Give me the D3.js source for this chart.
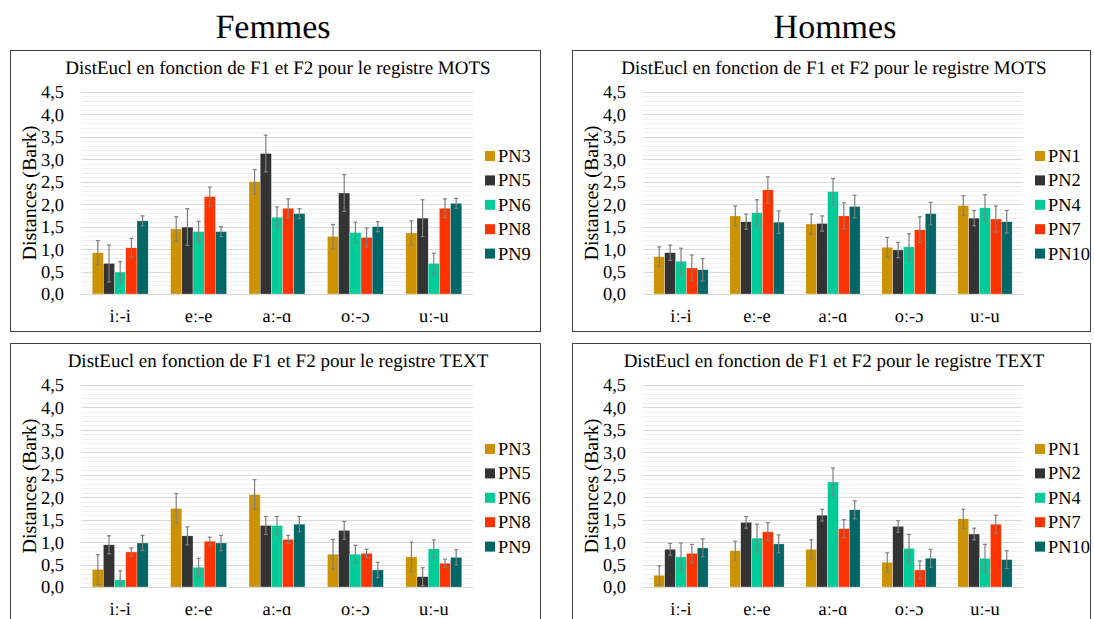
<!DOCTYPE html>
<html><head><meta charset="utf-8">
<script src="https://cdn.jsdelivr.net/npm/d3@7"></script>
<style>
html,body{margin:0;padding:0;background:#fff;}
svg text{font-family:"Liberation Serif","Times New Roman",serif !important;text-rendering:geometricPrecision;}
</style></head>
<body><svg id="c" width="1094" height="619"></svg>
<script>
// ---------- DATA ----------
const categories = ["iː-i", "eː-e", "aː-ɑ", "oː-ɔ", "uː-u"];
const femmesSeries = ["PN3", "PN5", "PN6", "PN8", "PN9"];
const hommesSeries = ["PN1", "PN2", "PN4", "PN7", "PN10"];
const yTickValues = [0, 0.5, 1, 1.5, 2, 2.5, 3, 3.5, 4, 4.5];
const seriesColors = ["#CC9200", "#333333", "#00CC99", "#FF3300", "#006666"];

// Femmes – MOTS (rows = series, cols = categories)
const femmesMotsValues = [
  [0.92, 1.45, 2.50, 1.28, 1.36],
  [0.68, 1.49, 3.13, 2.25, 1.69],
  [0.49, 1.39, 1.71, 1.37, 0.68],
  [1.03, 2.17, 1.91, 1.26, 1.91],
  [1.63, 1.39, 1.79, 1.50, 2.02]
];
const femmesMotsErrors = [0.27, 0.41, 0.23, 0.21, 0.11];

// Hommes – MOTS
const hommesMotsValues = [
  [0.83, 1.74, 1.56, 1.04, 1.97],
  [0.92, 1.61, 1.57, 0.98, 1.69],
  [0.73, 1.81, 2.28, 1.05, 1.92],
  [0.58, 2.32, 1.74, 1.43, 1.67],
  [0.54, 1.60, 1.95, 1.79, 1.61]
];
const hommesMotsErrors = [0.22, 0.17, 0.29, 0.29, 0.25];

// Femmes – TEXT
const femmesTextValues = [
  [0.39, 1.75, 2.06, 0.73, 0.67],
  [0.94, 1.14, 1.37, 1.26, 0.23],
  [0.16, 0.44, 1.37, 0.73, 0.85],
  [0.78, 1.02, 1.06, 0.75, 0.53],
  [0.98, 0.98, 1.40, 0.38, 0.66]
];
const femmesTextErrors = [0.33, 0.20, 0.20, 0.09, 0.17];

// Hommes – TEXT
const hommesTextValues = [
  [0.26, 0.81, 0.84, 0.55, 1.52],
  [0.84, 1.44, 1.60, 1.35, 1.18],
  [0.67, 1.09, 2.34, 0.86, 0.64],
  [0.75, 1.23, 1.30, 0.38, 1.40],
  [0.87, 0.96, 1.72, 0.64, 0.61]
];
const hommesTextErrors = [0.21, 0.13, 0.31, 0.20, 0.20];

const titleMots = "DistEucl en fonction de F1 et F2 pour le registre MOTS";
const titleText = "DistEucl en fonction de F1 et F2 pour le registre TEXT";
const yAxisTitle = "Distances (Bark)";
const headings = ["Femmes", "Hommes"];

// ---------- DRAW ----------
const svg = d3.select("#c");
const fmt = d3.formatLocale({decimal: ",", thousands: " ", grouping: [3], currency: ["", ""]}).format(".1f");
const SERIF = "'Liberation Serif', 'Times New Roman', serif";

svg.append("text").attr("x", 273).attr("y", 38).attr("text-anchor", "middle")
  .attr("font-size", 34).attr("fill", "#000").text(headings[0]);
svg.append("text").attr("x", 835).attr("y", 38).attr("text-anchor", "middle")
  .attr("font-size", 34).attr("fill", "#000").text(headings[1]);

const panels = [
  {x: 10, y: 50, w: 530, title: titleMots, series: femmesSeries, values: femmesMotsValues, errors: femmesMotsErrors},
  {x: 572, y: 50, w: 518, title: titleMots, series: hommesSeries, values: hommesMotsValues, errors: hommesMotsErrors},
  {x: 10, y: 343, w: 530, title: titleText, series: femmesSeries, values: femmesTextValues, errors: femmesTextErrors},
  {x: 572, y: 343, w: 518, title: titleText, series: hommesSeries, values: hommesTextValues, errors: hommesTextErrors}
];

const H = 281;
const LBL = 18.4;
panels.forEach(p => {
  const g = svg.append("g").attr("transform", `translate(${p.x},${p.y})`);
  g.append("rect").attr("x", 0.5).attr("y", 0.5).attr("width", p.w).attr("height", H)
    .attr("fill", "#fff").attr("stroke", "#404040").attr("stroke-width", 1);

  const left = 71, right = p.w - 67;
  const y = d3.scaleLinear().domain([0, 4.5]).range([244, 42]);
  const x0 = d3.scaleBand().domain(categories).range([left, right]).paddingInner(0.286).paddingOuter(0.143);
  const x1 = d3.scaleBand().domain(p.series).range([0, x0.bandwidth()]).padding(0);

  // title
  g.append("text").attr("x", p.w / 2 + 3).attr("y", 24).attr("text-anchor", "middle")
    .attr("font-size", 19).attr("fill", "#000").text(p.title);

  // minor gridlines
  const minor = d3.range(1, 45).filter(i => i % 5 !== 0).map(i => i / 10);
  g.append("g").selectAll("line").data(minor).join("line")
    .attr("x1", left).attr("x2", right)
    .attr("y1", d => Math.round(y(d)) + 0.5).attr("y2", d => Math.round(y(d)) + 0.5)
    .attr("stroke", "#f0f0f0").attr("stroke-width", 1);

  // major gridlines + y axis labels via axis
  const yAxis = d3.axisLeft(y).tickValues(yTickValues).tickFormat(fmt).tickSize(0).tickPadding(8);
  const ya = g.append("g").attr("transform", `translate(${left},0)`).call(yAxis);
  ya.select(".domain").remove();
  ya.attr("font-family", SERIF).attr("font-size", LBL);
  ya.selectAll("text").style("font-family", SERIF).style("font-size", LBL + "px")
    .attr("fill", "#000").attr("x", -17);
  g.append("g").selectAll("line").data(yTickValues.slice(1)).join("line")
    .attr("x1", left).attr("x2", right)
    .attr("y1", d => Math.round(y(d)) + 0.5).attr("y2", d => Math.round(y(d)) + 0.5)
    .attr("stroke", "#d9d9d9").attr("stroke-width", 1);

  // bars
  const flat = [];
  p.series.forEach((s, si) => categories.forEach((c, ci) => flat.push({s, si, c, v: p.values[si][ci], e: p.errors[si]})));
  g.append("g").selectAll("rect").data(flat).join("rect")
    .attr("x", d => x0(d.c) + x1(d.s)).attr("width", x1.bandwidth())
    .attr("y", d => y(d.v)).attr("height", d => y(0) - y(d.v))
    .attr("fill", d => seriesColors[d.si])
    .attr("stroke", "#ffffff").attr("stroke-opacity", 0.6).attr("stroke-width", 0.5);

  // baseline
  g.append("line").attr("x1", left).attr("x2", right)
    .attr("y1", Math.round(y(0)) + 0.5).attr("y2", Math.round(y(0)) + 0.5)
    .attr("stroke", "#d9d9d9");

  // error bars
  const eg = g.append("g").attr("stroke", "#808080").attr("stroke-width", 1.2);
  const cx = d => x0(d.c) + x1(d.s) + x1.bandwidth() / 2;
  eg.selectAll("line.v").data(flat).join("line").attr("class", "v")
    .attr("x1", cx).attr("x2", cx)
    .attr("y1", d => y(Math.max(0, d.v - d.e))).attr("y2", d => y(d.v + d.e));
  eg.selectAll("line.t").data(flat).join("line").attr("class", "t")
    .attr("x1", d => cx(d) - 2).attr("x2", d => cx(d) + 2)
    .attr("y1", d => y(d.v + d.e)).attr("y2", d => y(d.v + d.e));
  eg.selectAll("line.b").data(flat.filter(d => d.v - d.e > 0)).join("line").attr("class", "b")
    .attr("x1", d => cx(d) - 2).attr("x2", d => cx(d) + 2)
    .attr("y1", d => y(d.v - d.e)).attr("y2", d => y(d.v - d.e));

  // x axis labels
  const xAxis = d3.axisBottom(x0).tickSize(0).tickPadding(0);
  const xa = g.append("g").attr("transform", `translate(0,${y(0)})`).call(xAxis);
  xa.select(".domain").remove();
  xa.attr("font-family", SERIF).attr("font-size", LBL);
  xa.selectAll("text").style("font-family", SERIF).style("font-size", LBL + "px")
    .attr("fill", "#000").attr("dy", null).attr("y", 28);

  // y title
  g.append("text").attr("transform", `translate(26,${(y(0) + y(4.5)) / 2}) rotate(-90)`)
    .attr("text-anchor", "middle").attr("font-size", 20).attr("fill", "#000").text(yAxisTitle);

  // legend
  const lg = g.append("g").attr("transform", `translate(${right + 12},0)`);
  p.series.forEach((s, i) => {
    const cy = 106 + i * 24.4;
    lg.append("rect").attr("x", 0).attr("y", cy - 5).attr("width", 10).attr("height", 10).attr("fill", seriesColors[i]);
    lg.append("text").attr("x", 13).attr("y", cy + 6).style("font-family", SERIF).style("font-size", LBL + "px")
      .attr("fill", "#000").text(s);
  });
});
</script></body></html>
